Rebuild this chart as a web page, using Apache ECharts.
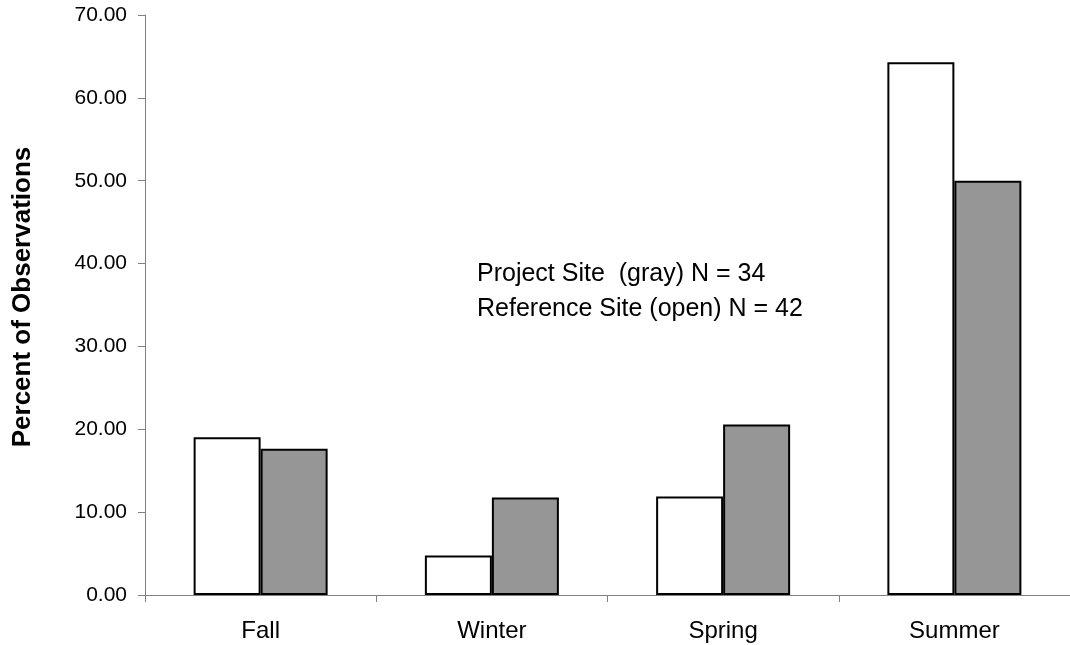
<!DOCTYPE html>
<html><head><meta charset="utf-8">
<script src="https://cdn.jsdelivr.net/npm/echarts@6/dist/echarts.min.js"></script>
<style>html,body{margin:0;padding:0;background:#fff}#c{width:1070px;height:645px}</style>
</head><body><div id="c"></div>
<script>
var categories = ['Fall', 'Winter', 'Spring', 'Summer'];
var referenceOpen = [19.05, 4.76, 11.90, 64.29];
var projectGray = [17.65, 11.76, 20.59, 50.00];
var yTicks = [0, 10, 20, 30, 40, 50, 60, 70];
var yTitle = 'Percent of Observations';
var annotationLines = ['Project Site  (gray) N = 34', 'Reference Site (open) N = 42'];

var chart = echarts.init(document.getElementById('c'));
var font = 'Liberation Sans, Arial, sans-serif';
chart.setOption({
  animation: false,
  grid: {left: 145, top: 15, bottom: 50, right: -11, containLabel: false},
  xAxis: {
    type: 'category', data: categories,
    axisLine: {lineStyle: {color: '#808080', width: 1}},
    axisTick: {show: true, alignWithLabel: false, length: 7, lineStyle: {color: '#808080'}},
    axisLabel: {color: '#000', fontFamily: font, fontSize: 24, margin: 24}
  },
  yAxis: {
    type: 'value', min: yTicks[0], max: yTicks[yTicks.length - 1], interval: 10,
    axisLine: {show: true, lineStyle: {color: '#808080', width: 1}},
    axisTick: {show: true, length: 7, lineStyle: {color: '#808080'}},
    splitLine: {show: false},
    axisLabel: {color: '#000', fontFamily: font, fontSize: 21, margin: 18,
      formatter: function (v) { return v.toFixed(2); }}
  },
  series: [
    {type: 'bar', data: referenceOpen, barWidth: 67, barGap: '0%',
      itemStyle: {color: '#ffffff', borderColor: '#000', borderWidth: 2}},
    {type: 'bar', data: projectGray, barWidth: 67, barGap: '0%',
      itemStyle: {color: '#969696', borderColor: '#000', borderWidth: 2}}
  ],
  graphic: [{
    type: 'text', left: 477, top: 257,
    style: {text: annotationLines.join('\n'), fontFamily: font, fontSize: 25,
      lineHeight: 35, fill: '#000'}
  }, {
    type: 'text', x: 23, y: 297, rotation: Math.PI / 2,
    style: {text: yTitle, fontFamily: font, fontSize: 26, fontWeight: 'bold',
      fill: '#000', align: 'center', verticalAlign: 'middle'}
  }]
});
</script></body></html>
